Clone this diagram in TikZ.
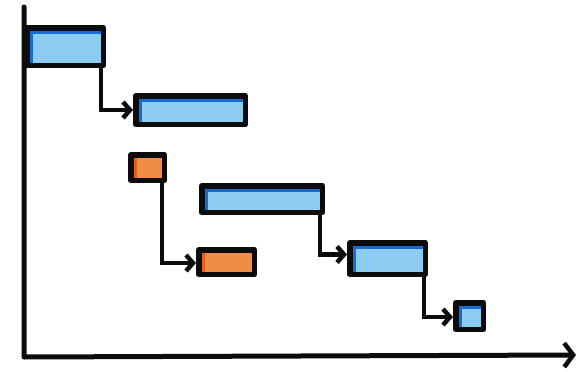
\documentclass[tikz,border=0pt]{standalone}
\usepackage{tikz}
\usetikzlibrary{arrows.meta,positioning}
\definecolor{barblue}{RGB}{140,204,240}
\definecolor{barblueedge}{RGB}{22,108,214}
\definecolor{barorange}{RGB}{240,140,70}
\definecolor{barorangeedge}{RGB}{226,96,20}
\definecolor{ink}{RGB}{12,12,12}
\tikzset{
  bar/.style={draw=ink, line width=5.5pt, line join=round, anchor=north west,
    inner sep=0pt, fill=barblue,
    path picture={\draw[barblueedge, line width=13pt]
      (path picture bounding box.south west) --
      (path picture bounding box.north west) --
      (path picture bounding box.north east);}},
  orangebar/.style={bar, fill=barorange,
    path picture={\draw[barorangeedge, line width=12pt]
      (path picture bounding box.south west) --
      (path picture bounding box.north west);}},
  dep/.style={-{Straight Barb[length=7pt,width=16pt,line width=4.5pt]},
    line width=4.5pt, draw=ink, line cap=round},
  axis/.style={-{Straight Barb[length=9pt,width=24pt,line width=4.5pt]},
    line width=5pt, draw=ink, line cap=round, line join=round},
}

\begin{document}
\begin{tikzpicture}[x=1pt, y=-1pt]
  \useasboundingbox (0,0) rectangle (584,372);

  % axes
  \coordinate (ytop) at (24,7);
  \coordinate (orig) at (24,357);
  \coordinate (xend) at (576,355);
  \draw[axis] (ytop) -- (orig) -- (xend);

  % tasks
  \node[bar, minimum width=76.5pt, minimum height=37.5pt] (task1) at (24,25) {};
  \node[bar, minimum width=109.5pt, minimum height=28.5pt] (task2) at (133,93) {};
  \node[orangebar, minimum width=33.5pt, minimum height=25.5pt] (side1) at (128,152) {};
  \node[bar, minimum width=120.5pt, minimum height=26.5pt] (task3) at (199,183) {};
  \node[orangebar, minimum width=55.5pt, minimum height=24.5pt] (side2) at (196,247) {};
  \node[bar, minimum width=75.5pt, minimum height=31.5pt] (task4) at (347,240) {};
  \node[bar, minimum width=27.5pt, minimum height=26.5pt] (task5) at (453,300) {};

  % dependencies
  \draw[dep] ([xshift=-5pt,yshift=2pt]task1.south east) |- (task2.west);
  \draw[dep] ([xshift=-5pt,yshift=2pt]side1.south east) |- ([yshift=-1pt]side2.west);
  \draw[dep] ([xshift=-5pt,yshift=2pt]task3.south east) |- ([yshift=4pt]task4.west);
  \draw[dep] ([xshift=-4pt,yshift=2pt]task4.south east) |- ([yshift=-1pt]task5.west);
\end{tikzpicture}
\end{document}
